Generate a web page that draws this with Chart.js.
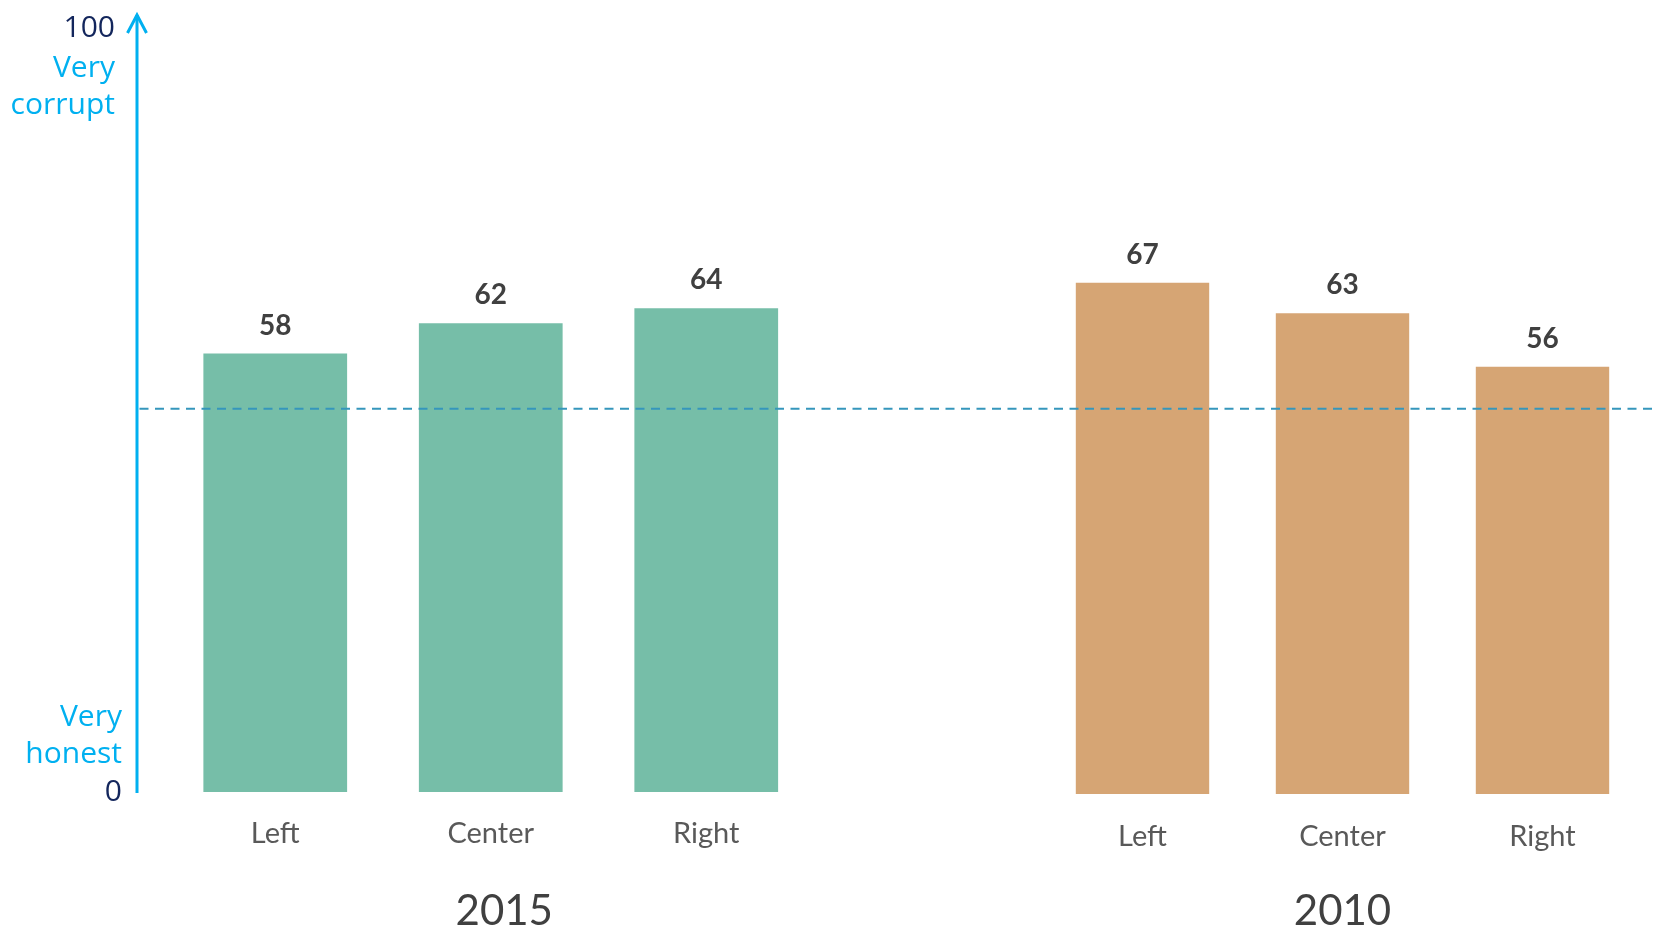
<!DOCTYPE html>
<html>
<head>
<meta charset="utf-8">
<script src="https://cdn.jsdelivr.net/npm/chart.js@4.4.1/dist/chart.umd.min.js"></script>
<style>
    html, body { margin: 0; padding: 0; background: #fff; }
    #wrap { position: relative; width: 1654px; height: 929px; overflow: hidden; }
    canvas { position: absolute; top: 0; }
    #chart2015 { left: 0; }
    #chart2010 { left: 900px; }
</style>
</head>
<body>
<div id="wrap">
    <canvas id="chart2015" width="900" height="929"></canvas>
    <canvas id="chart2010" width="754" height="929"></canvas>
</div>
<script>
const categories = ['Left', 'Center', 'Right'];
const values2015 = [58, 62, 64];
const values2010 = [67, 63, 56];
const yTickLabels = ['0', '100'];
const topAxisLabel = ['Very', 'corrupt'];
const bottomAxisLabel = ['Very', 'honest'];
const referenceValue = 50.7;

const TEAL = '#76bea8';
const SAND = '#d6a574';
const AXIS_BLUE = '#00b0f0';
const NAVY = '#13265c';
const DASH_BLUE = '#3596bc';

// y of the dashed line, taken from the 2015 axis so both panels line up
let sharedLineY = null;

// numbers above the bars + year under the panel
const valueLabels = {
    id: 'valueLabels',
    afterDatasetsDraw(chart, args, opts) {
        const ctx = chart.ctx;
        const meta = chart.getDatasetMeta(0);
        const data = chart.data.datasets[0].data;
        ctx.save();
        ctx.font = 'bold 28px Lato';
        ctx.fillStyle = '#404040';
        ctx.textAlign = 'center';
        ctx.textBaseline = 'middle';
        meta.data.forEach((bar, i) => {
            ctx.fillText(String(data[i]), bar.x, bar.y - 28);
        });

        const area = chart.chartArea;
        ctx.font = '42px Lato';
        ctx.fillText(chart.data.datasets[0].label, (area.left + area.right) / 2 + opts.yearShift, chart.height - 18);
        ctx.restore();
    }
};

// dashed reference line, runs across both panels
const referenceLine = {
    id: 'referenceLine',
    afterDatasetsDraw(chart, args, opts) {
        const ctx = chart.ctx;
        let y = chart.scales.y.getPixelForValue(referenceValue);
        if (opts.fromAxis) sharedLineY = y;
        else if (sharedLineY !== null) y = sharedLineY;
        const x0 = opts.fromAxis ? chart.chartArea.left - opts.axisGap : 0;
        ctx.save();
        ctx.strokeStyle = DASH_BLUE;
        ctx.lineWidth = 2;
        ctx.setLineDash([9, 6.5]);
        // keep the dash phase continuous across the two canvases
        ctx.lineDashOffset = opts.pageLeft + x0;
        ctx.beginPath();
        ctx.moveTo(x0, y);
        ctx.lineTo(chart.width, y);
        ctx.stroke();
        ctx.restore();
    }
};

// arrow axis with the end labels
const arrowAxis = {
    id: 'arrowAxis',
    afterDraw(chart, args, opts) {
        const ctx = chart.ctx;
        const y = chart.scales.y;
        const ax = chart.chartArea.left - opts.axisGap;
        const y0 = y.getPixelForValue(0);
        const y100 = y.getPixelForValue(100);
        const tip = y100 - 21;

        ctx.save();
        ctx.strokeStyle = AXIS_BLUE;
        ctx.lineWidth = 3;
        ctx.beginPath();
        ctx.moveTo(ax, y0 + 1);
        ctx.lineTo(ax, tip);
        ctx.stroke();
        ctx.beginPath();
        ctx.moveTo(ax - 9.5, tip + 18);
        ctx.lineTo(ax, tip);
        ctx.lineTo(ax + 9.5, tip + 18);
        ctx.stroke();

        ctx.font = '30px "Open Sans"';
        ctx.textAlign = 'right';
        ctx.textBaseline = 'middle';

        ctx.fillStyle = NAVY;
        ctx.fillText(yTickLabels[1], ax - 22, y100 - 8);
        ctx.fillText(yTickLabels[0], ax - 15, y0);

        ctx.fillStyle = AXIS_BLUE;
        ctx.fillText(topAxisLabel[0], ax - 22, y100 + 32);
        ctx.fillText(topAxisLabel[1], ax - 22, y100 + 69);
        ctx.fillText(bottomAxisLabel[0], ax - 15, y0 - 75);
        ctx.fillText(bottomAxisLabel[1], ax - 15, y0 - 38);
        ctx.restore();
    }
};

function makeChart(canvas, year, values, color, padding, axisHeight, tickPad, extra) {
    return new Chart(canvas, {
        type: 'bar',
        data: {
            labels: categories,
            datasets: [{
                label: year,
                data: values,
                backgroundColor: color,
                borderWidth: 0,
                barPercentage: 0.667,
                categoryPercentage: 1
            }]
        },
        options: {
            responsive: false,
            animation: false,
            devicePixelRatio: 1,
            layout: { padding: padding },
            plugins: {
                legend: { display: false },
                tooltip: { enabled: false },
                referenceLine: extra.line,
                valueLabels: { yearShift: extra.yearShift },
                arrowAxis: extra.axis || {}
            },
            scales: {
                x: {
                    grid: { display: false, drawTicks: false },
                    border: { display: false },
                    ticks: {
                        color: '#595959',
                        padding: tickPad,
                        font: { family: 'Lato', size: 29 }
                    },
                    afterFit: s => { s.height = axisHeight; }
                },
                y: { display: false, min: 0, max: 100 }
            }
        },
        plugins: extra.plugins
    });
}

function build() {
    makeChart(
        document.getElementById('chart2015'), '2015', values2015, TEAL,
        { left: 167.5, right: 86, top: 36, bottom: 0 }, 137, 24,
        {
            line: { fromAxis: true, axisGap: 30.5, pageLeft: 0 },
            axis: { axisGap: 30.5 },
            yearShift: 13.5,
            plugins: [referenceLine, valueLabels, arrowAxis]
        }
    );
    makeChart(
        document.getElementById('chart2010'), '2010', values2010, SAND,
        { left: 142.5, right: 11.5, top: 31, bottom: 0 }, 135, 25,
        {
            line: { fromAxis: false, pageLeft: 900 },
            yearShift: 0,
            plugins: [referenceLine, valueLabels]
        }
    );
}

Promise.all([
    document.fonts.load('29px Lato'),
    document.fonts.load('bold 28px Lato'),
    document.fonts.load('30px "Open Sans"')
]).then(build, build);
</script>
</body>
</html>
